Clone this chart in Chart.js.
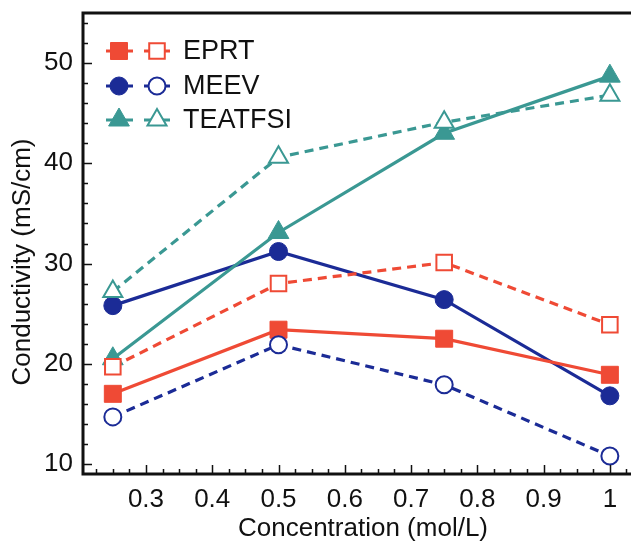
<!DOCTYPE html>
<html>
<head>
<meta charset="utf-8">
<script src="https://cdn.jsdelivr.net/npm/chart.js@4"></script>
<style>
    html, body { margin: 0; padding: 0; background: #fff; overflow: hidden; }
    #wrap { width: 631px; height: 545px; overflow: hidden; }
</style>
</head>
<body>
<div id="wrap"><canvas id="chart" width="650" height="545"></canvas></div>
<script>
const concentration = [0.25, 0.5, 0.75, 1];
const eprtSolid = [17.0, 23.4, 22.5, 18.9];
const eprtOpen = [19.7, 28.0, 30.1, 23.9];
const meevSolid = [25.8, 31.2, 26.4, 16.8];
const meevOpen = [14.7, 21.9, 17.9, 10.8];
const teaSolid = [20.5, 33.1, 43.0, 48.7];
const teaOpen = [27.2, 40.6, 44.1, 46.8];

const xTicks = [0.3, 0.4, 0.5, 0.6, 0.7, 0.8, 0.9, 1];
const yTicks = [10, 20, 30, 40, 50];

const red = '#ef4a35';
const navy = '#1b2b96';
const teal = '#3a9893';
const font = 'Liberation Sans, Arial, Helvetica, sans-serif';

const toPoints = vals => vals.map((v, i) => ({ x: concentration[i], y: v }));

const radii = {
    rect: [12, 11],
    circle: [9, 8.5],
    triangle: [12, 11]
};

function series(label, vals, color, style, open) {
    return {
        label,
        data: toPoints(vals),
        borderColor: color,
        backgroundColor: open ? '#fff' : color,
        pointBackgroundColor: open ? '#fff' : color,
        pointBorderColor: color,
        pointBorderWidth: open ? 2 : 1,
        pointStyle: style,
        pointRadius: radii[style][open ? 1 : 0],
        borderWidth: 3.2,
        borderDash: open ? [9, 6] : [],
        tension: 0
    };
}

// frame, inward ticks, y title and the two-marker legend
const extras = {
    id: 'extras',
    afterDraw(c) {
        const ctx = c.ctx;
        const a = c.chartArea;
        const xs = c.scales.x, ys = c.scales.y;
        ctx.save();
        ctx.strokeStyle = '#111';
        ctx.lineWidth = 1.5;
        ctx.beginPath();
        for (let i = 0; i <= 34; i++) {
            const v = 0.2 + i * 0.025;
            if (v < xs.min) continue;
            const px = Math.round(xs.getPixelForValue(v)) + 0.5;
            ctx.moveTo(px, a.bottom);
            ctx.lineTo(px, a.bottom - (i % 4 === 0 ? 9 : 5));
        }
        for (let v = 10; v <= 54; v += 2) {
            const py = Math.round(ys.getPixelForValue(v)) + 0.5;
            ctx.moveTo(a.left, py);
            ctx.lineTo(a.left + (v % 10 === 0 ? 9 : 5), py);
        }
        ctx.stroke();
        ctx.lineWidth = 3;
        ctx.strokeRect(a.left, a.top, a.right - a.left, a.bottom - a.top);

        // y axis title sits a little below the middle of the frame
        ctx.save();
        ctx.translate(23, 262);
        ctx.rotate(-Math.PI / 2);
        ctx.fillStyle = '#111';
        ctx.font = '26px ' + font;
        ctx.textAlign = 'center';
        ctx.textBaseline = 'middle';
        ctx.fillText('Conductivity (mS/cm)', 0, 0);
        ctx.restore();

        const rows = [
            ['EPRT', red, 'rect', 51],
            ['MEEV', navy, 'circle', 86],
            ['TEATFSI', teal, 'triangle', 120]
        ];
        rows.forEach(([name, color, style, y]) => {
            ctx.strokeStyle = color;
            ctx.lineWidth = 3;
            ctx.setLineDash([]);
            ctx.beginPath();
            ctx.moveTo(106, y); ctx.lineTo(133, y);
            ctx.moveTo(144, y); ctx.lineTo(170, y);
            ctx.stroke();
            ctx.fillStyle = color;
            ctx.lineWidth = 1;
            Chart.helpers.drawPoint(ctx, { pointStyle: style, radius: radii[style][0], borderWidth: 1 }, 119, y);
            ctx.fillStyle = '#fff';
            ctx.lineWidth = 2;
            Chart.helpers.drawPoint(ctx, { pointStyle: style, radius: radii[style][1], borderWidth: 2 }, 157, y);
            ctx.fillStyle = '#111';
            ctx.font = '27px ' + font;
            ctx.textBaseline = 'middle';
            ctx.fillText(name, 183, y + 1);
        });
        ctx.restore();
    }
};

new Chart(document.getElementById('chart'), {
    type: 'line',
    data: {
        datasets: [
            series('TEATFSI open', teaOpen, teal, 'triangle', true),
            series('EPRT open', eprtOpen, red, 'rect', true),
            series('MEEV open', meevOpen, navy, 'circle', true),
            series('TEATFSI', teaSolid, teal, 'triangle', false),
            series('EPRT', eprtSolid, red, 'rect', false),
            series('MEEV', meevSolid, navy, 'circle', false)
        ]
    },
    options: {
        responsive: false,
        animation: false,
        layout: { autoPadding: false, padding: { top: 13, right: 7, left: 0, bottom: 0 } },
        plugins: { legend: { display: false }, tooltip: { enabled: false } },
        scales: {
            x: {
                type: 'linear',
                min: 0.205,
                max: 1.05,
                afterBuildTicks: s => { s.ticks = xTicks.map(v => ({ value: v })); },
                afterFit: s => { s.height = 71; s.paddingLeft = 0; s.paddingRight = 0; },
                grid: { display: false, drawTicks: false },
                border: { display: false },
                ticks: {
                    color: '#111',
                    padding: 10,
                    maxRotation: 0,
                    font: { family: font, size: 26 },
                    callback: v => v === 1 ? '1' : v.toFixed(1)
                },
                title: {
                    display: true,
                    text: 'Concentration (mol/L)',
                    color: '#111',
                    font: { family: font, size: 26 },
                    padding: { top: 0, bottom: 1 }
                }
            },
            y: {
                min: 9,
                max: 55,
                afterBuildTicks: s => { s.ticks = yTicks.map(v => ({ value: v })); },
                afterFit: s => { s.width = 83; s.paddingTop = 0; s.paddingBottom = 0; },
                grid: { display: false, drawTicks: false },
                border: { display: false },
                ticks: {
                    color: '#111',
                    padding: 10,
                    font: { family: font, size: 26 }
                }
            }
        }
    },
    plugins: [extras]
});
</script>
</body>
</html>
